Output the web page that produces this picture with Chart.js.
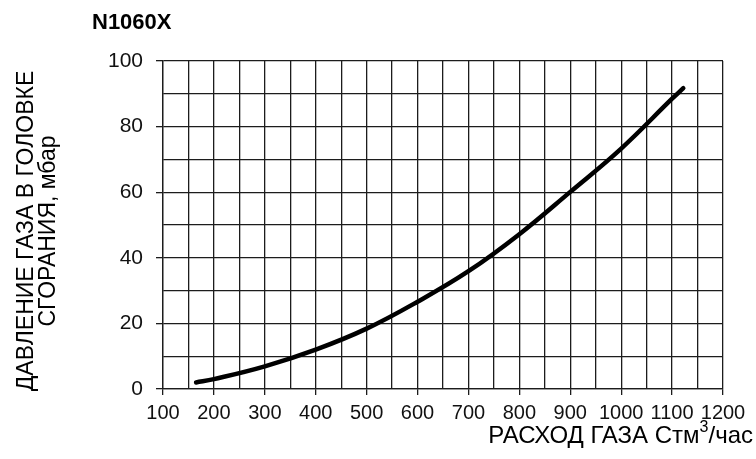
<!DOCTYPE html>
<html>
<head>
<meta charset="utf-8">
<script src="https://cdn.jsdelivr.net/npm/chart.js@4"></script>
<style>
  body { margin: 0; background: #fff; }
  #wrap { width: 756px; height: 459px; position: relative; }
</style>
</head>
<body>
<div id="wrap"><canvas id="gasChart"></canvas></div>
<script>
// gas flow (Stm3/h) and combustion head pressure (mbar)
const flow = [165, 200, 300, 400, 500, 600, 700, 800, 900, 1000, 1100, 1122];
const pressure = [2.0, 3.0, 6.9, 12.0, 18.4, 26.6, 35.9, 47.2, 60.1, 73.3, 88.5, 91.7];

const chartTitle = 'N1060X';
const yTitle = ['ДАВЛЕНИЕ ГАЗА В ГОЛОВКЕ', 'СГОРАНИЯ, мбар'];
const xTitleMain = 'РАСХОД ГАЗА Стм';
const xTitleSup = '3';
const xTitleEnd = '/час';

const FONT = '"Liberation Sans", Arial, sans-serif';
const INK = '#1c1c1c';

const points = flow.map(function (f, i) {
    return { x: f, y: pressure[i] };
});

// heading, rotated y label and the x label with a real superscript
const titlesPlugin = {
    id: 'titles',
    afterDraw: function (chart) {
        const c = chart.ctx;
        c.save();
        c.fillStyle = '#000';
        c.textBaseline = 'alphabetic';

        c.font = 'bold 22px ' + FONT;
        c.textAlign = 'left';
        c.fillText(chartTitle, 92, 29);

        // y axis label, two rotated lines
        c.save();
        c.translate(0, 231);
        c.rotate(-Math.PI / 2);
        c.font = '23px ' + FONT;
        c.textAlign = 'center';
        c.fillText(yTitle[0], 0, 33);
        c.fillText(yTitle[1], 0, 55);
        c.restore();

        // x axis label, right aligned
        const right = 753;
        const base = 443;
        c.font = '24px ' + FONT;
        const wEnd = c.measureText(xTitleEnd).width;
        const wMain = c.measureText(xTitleMain).width;
        c.font = '16px ' + FONT;
        const wSup = c.measureText(xTitleSup).width;

        let x = right - wEnd - wSup - wMain;
        c.font = '24px ' + FONT;
        c.fillText(xTitleMain, x, base);
        x += wMain;
        c.font = '16px ' + FONT;
        c.fillText(xTitleSup, x, base - 11);
        x += wSup;
        c.font = '24px ' + FONT;
        c.fillText(xTitleEnd, x, base);
        c.restore();
    }
};

const ctx = document.getElementById('gasChart');

var chartData = {
    datasets: [{
        data: points,
        borderColor: '#000',
        borderWidth: 4.5,
        pointRadius: 0,
        fill: false,
        tension: 0.4,
        borderCapStyle: 'round'
    }]
};

var chartOptions = {
    responsive: true,
    maintainAspectRatio: false,
    animation: false,
    layout: {
        padding: { top: 61, right: 33, left: 0, bottom: 0 }
    },
    plugins: {
        legend: { display: false },
        tooltip: { enabled: false }
    },
    scales: {
        x: {
            type: 'linear',
            min: 100,
            max: 1200,
            afterFit: function (scale) { scale.height = 70; },
            ticks: {
                stepSize: 50,
                autoSkip: false,
                maxRotation: 0,
                padding: 6,
                color: '#111',
                font: { family: FONT, size: 20 },
                callback: function (v) { return v % 100 === 0 ? v : ''; }
            },
            grid: {
                color: INK,
                lineWidth: 1.3,
                tickLength: 6,
                tickColor: function (c) {
                    return c.tick && c.tick.value % 100 === 0 ? INK : 'rgba(0,0,0,0)';
                }
            },
            border: { color: INK, width: 1.3 }
        },
        y: {
            min: 0,
            max: 100,
            afterFit: function (scale) { scale.width = 163; },
            ticks: {
                stepSize: 10,
                autoSkip: false,
                padding: 13,
                color: '#111',
                font: { family: FONT, size: 21 },
                callback: function (v) { return v % 20 === 0 ? v : ''; }
            },
            grid: {
                color: INK,
                lineWidth: 1.3,
                tickLength: 7,
                tickColor: function (c) {
                    return c.tick && c.tick.value % 20 === 0 ? INK : 'rgba(0,0,0,0)';
                }
            },
            border: { color: INK, width: 1.3 }
        }
    }
};

var gasChart = new Chart(ctx, {
    type: 'line',
    data: chartData,
    options: chartOptions,
    plugins: [titlesPlugin]
});
</script>
</body>
</html>
